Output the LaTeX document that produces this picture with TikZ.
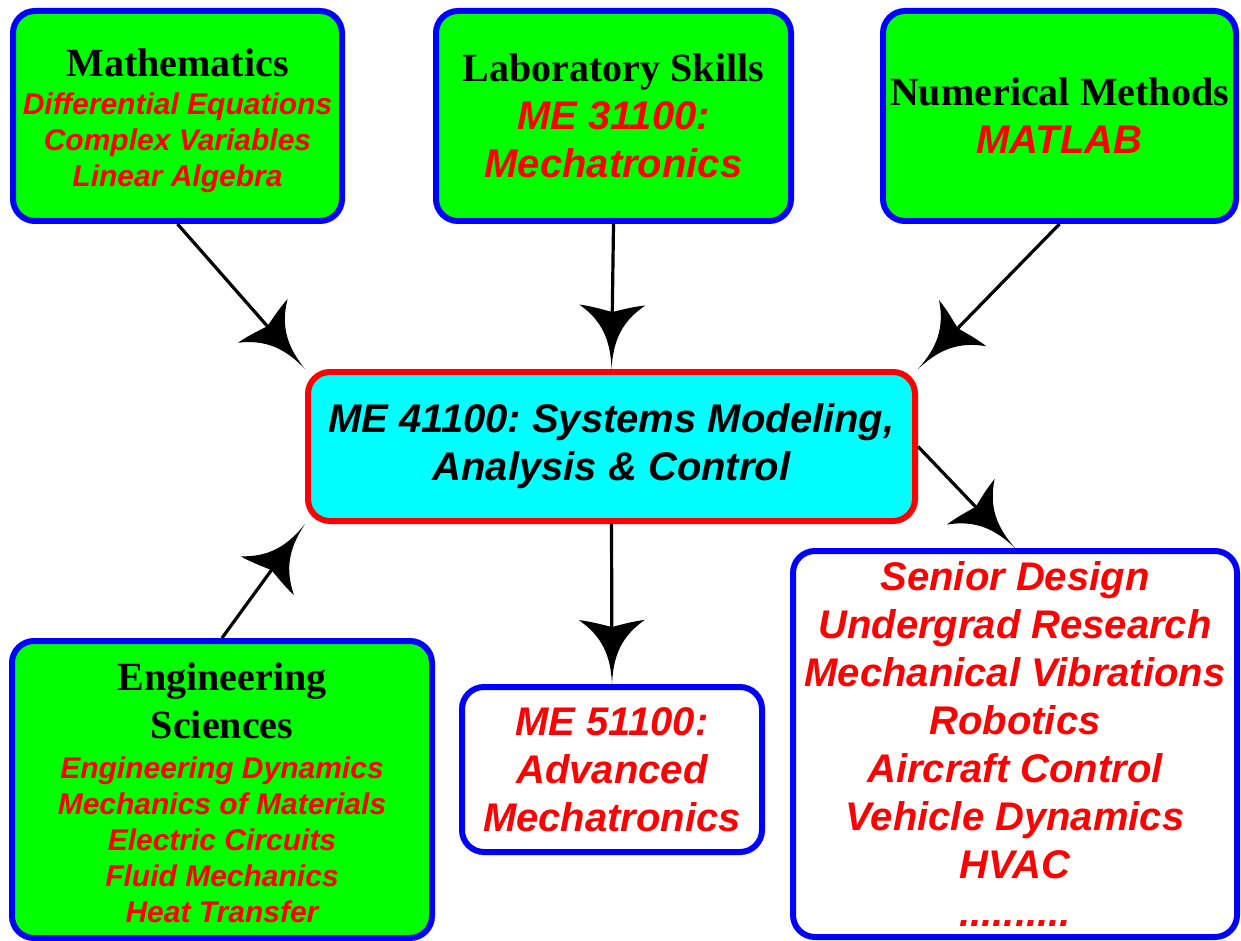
\documentclass[tikz,border=0pt]{standalone}
\usepackage{fontspec}
\setmainfont{Liberation Serif}
\setsansfont{Liberation Sans}
\usetikzlibrary{arrows.meta}
\frenchspacing

% curved, flared arrow head
\pgfdeclarearrow{
  name=Flare,
  parameters={\the\pgfarrowlength,\the\pgfarrowwidth},
  setup code={
    \pgfarrowssettipend{0pt}
    \pgfarrowssetbackend{-\pgfarrowlength}
    \pgfarrowssetlineend{-.8\pgfarrowlength}
    \pgfarrowssavethe\pgfarrowlength
    \pgfarrowssavethe\pgfarrowwidth
  },
  drawing code={
    \pgfpathmoveto{\pgfqpoint{0pt}{0pt}}
    \pgfpathcurveto{\pgfqpoint{-.45\pgfarrowlength}{.02\pgfarrowwidth}}{\pgfqpoint{-.75\pgfarrowlength}{.15\pgfarrowwidth}}{\pgfqpoint{-\pgfarrowlength}{.5\pgfarrowwidth}}
    \pgfpathcurveto{\pgfqpoint{-.98\pgfarrowlength}{.33\pgfarrowwidth}}{\pgfqpoint{-.93\pgfarrowlength}{.15\pgfarrowwidth}}{\pgfqpoint{-.89\pgfarrowlength}{0pt}}
    \pgfpathcurveto{\pgfqpoint{-.93\pgfarrowlength}{-.15\pgfarrowwidth}}{\pgfqpoint{-.98\pgfarrowlength}{-.33\pgfarrowwidth}}{\pgfqpoint{-\pgfarrowlength}{-.5\pgfarrowwidth}}
    \pgfpathcurveto{\pgfqpoint{-.75\pgfarrowlength}{-.15\pgfarrowwidth}}{\pgfqpoint{-.45\pgfarrowlength}{-.02\pgfarrowwidth}}{\pgfqpoint{0pt}{0pt}}
    \pgfpathclose
    \pgfusepathqfill
  },
  defaults={length=32pt,width=33pt}
}

\definecolor{aqua}{RGB}{0,255,255}
\definecolor{lime}{RGB}{0,255,0}

\newcommand{\hd}[1]{{\rmfamily\upshape\color{black}#1}}
\newcommand{\sm}{\fontsize{15}{18}\selectfont}

\tikzset{
->,
>={Flare},
every node/.style={align=center, inner sep=0pt, text=red, font=\sffamily\bfseries\itshape\fontsize{20}{24}\selectfont},
box/.style={draw=blue, line width=3pt, rounded corners=11pt, fill=lime},
}

\begin{document}
\begin{tikzpicture}[x=0.5pt,y=-0.5pt,line width=1.6pt]
    \useasboundingbox (0,0) rectangle (1241,941);

    \node[box, minimum width=164.5pt, minimum height=105pt] (math) at (177.5,116)
        {\rule{0pt}{19pt}\hd{Mathematics}\\[-5pt] \sm Differential Equations\\[-6pt] \sm Complex Variables\\[-6pt] \sm Linear Algebra};
    \node[box, minimum width=177.5pt, minimum height=105pt] (lab) at (613.5,116)
        {\hd{Laboratory Skills}\\ ME 31100:\\ Mechatronics};
    \node[box, minimum width=176.5pt, minimum height=105pt] (num) at (1059.5,116)
        {\hd{Numerical Methods}\\ MATLAB};
    \node[draw=red, fill=aqua, line width=3pt, rounded corners=11pt, text=black, minimum width=303.5pt, minimum height=74.5pt] (core) at (611.5,446.5)
        {ME 41100: Systems Modeling,\\ Analysis \& Control};
    \node[box, minimum width=210pt, minimum height=148.5pt] (eng) at (222,789.5)
        {\rule{0pt}{17pt}\hd{Engineering}\\ \hd{Sciences}\\[-4pt] \sm Engineering Dynamics\\[-6pt] \sm Mechanics of Materials\\[-6pt] \sm Electric Circuits\\[-6pt] \sm Fluid Mechanics\\[-6pt] \sm Heat Transfer};
    \node[box, fill=white, minimum width=150pt, minimum height=82.5pt] (adv) at (612,769.5)
        {ME 51100:\\ Advanced\\ Mechatronics};
    \node[box, fill=white, minimum width=222pt, minimum height=193pt] (apps) at (1015,744)
        {Senior Design\\ Undergrad Research\\ Mechanical Vibrations\\ Robotics\\ Aircraft Control\\ Vehicle Dynamics\\ HVAC\\ ..........};

    \draw (math.south) -- (core.north west);
    \draw (lab.south) -- (core.north);
    \draw (num.south) -- (core.north east);
    \draw (eng.north) -- (core.south west);
    \draw (core.south) -- (adv.north);
    \draw (core.east) -- (apps.north);

\end{tikzpicture}
\end{document}
